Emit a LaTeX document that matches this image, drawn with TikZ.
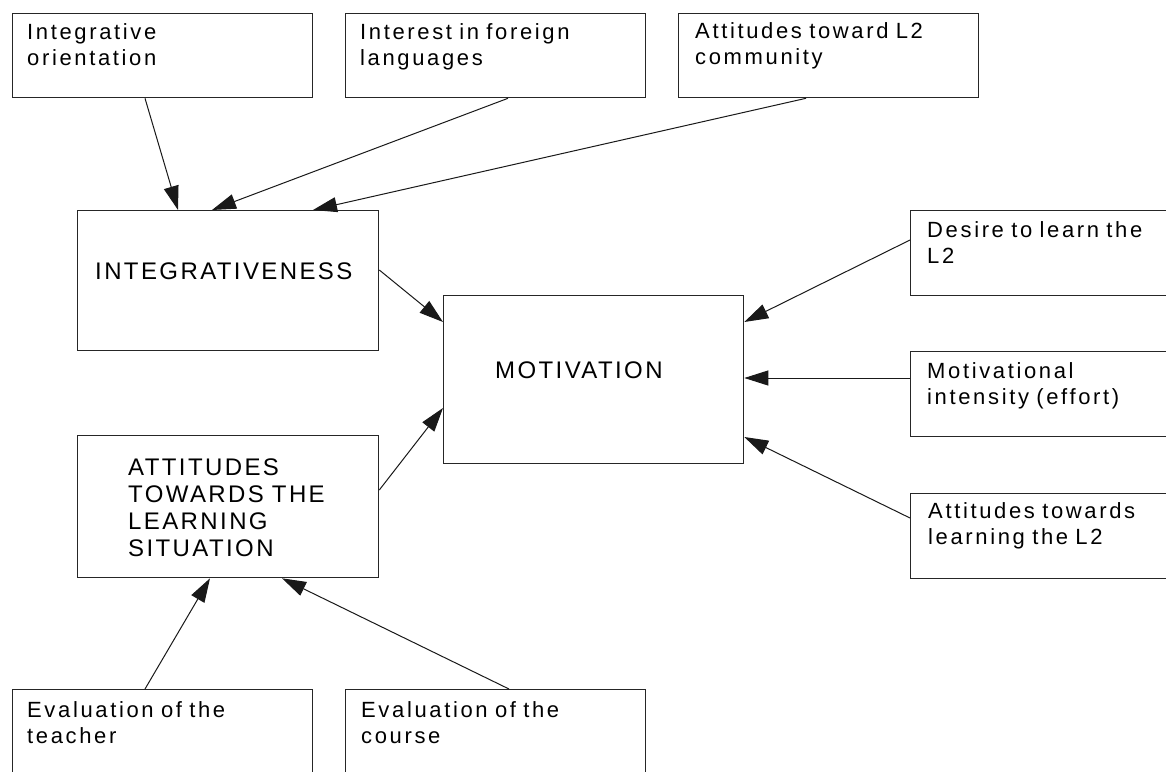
\documentclass[tikz,border=0pt]{standalone}
\usepackage{fontspec}
\setmainfont{Liberation Sans}
\newfontfamily\mixfont[LetterSpace=12,WordSpace=1.5]{Liberation Sans}
\newfontfamily\capfont[LetterSpace=10,WordSpace=1.3]{Liberation Sans}
\newcommand\mixtext{\mixfont\fontsize{22}{26.5}\selectfont}
\newcommand\captext{\capfont\fontsize{24}{27.3}\selectfont}
\usetikzlibrary{arrows.meta}
\begin{document}
\begin{tikzpicture}[x=1pt,y=-1pt,
  box/.style={draw=black!85, line width=1.3pt, rectangle, inner sep=0pt, anchor=north west},
  lab/.style={anchor=base west, inner sep=0pt, text width=280pt, align=left, font=\mixtext},
  caplab/.style={anchor=base west, inner sep=0pt, text width=280pt, align=left, font=\captext},
  arr/.style={line width=1pt, draw=black!90, -{Triangle[length=24pt,width=15pt]}}]
\useasboundingbox (0,0) rectangle (1166,771);
\clip (0,0) rectangle (1166,771);
\fill[white] (0,0) rectangle (1166,771);
% boxes
\node[box, minimum width=300pt, minimum height=84pt] (b1) at (12,13) {};
\node[box, minimum width=300pt, minimum height=84pt] (b2) at (345,13) {};
\node[box, minimum width=300pt, minimum height=84pt] (b3) at (678,13) {};
\node[box, minimum width=301pt, minimum height=140pt] (int) at (77,210) {};
\node[box, minimum width=300pt, minimum height=168pt] (mot) at (443,295) {};
\node[box, minimum width=301pt, minimum height=142pt] (att) at (77,435) {};
\node[box, minimum width=300pt, minimum height=85pt] (d1) at (910,210) {};
\node[box, minimum width=300pt, minimum height=85pt] (d2) at (910,351) {};
\node[box, minimum width=300pt, minimum height=85pt] (d3) at (910,493) {};
\node[box, minimum width=300pt, minimum height=100pt] (e1) at (12,689) {};
\node[box, minimum width=300pt, minimum height=100pt] (e2) at (345,689) {};
% texts
\node[lab] (t1) at (27,39) {Integrative\\orientation};
\node[lab] (t2) at (360,39) {Interest in foreign\\languages};
\node[lab] (t3) at (695,38) {Attitudes toward L2\\community};
\node[caplab] (tint) at (95,279) {INTEGRATIVENESS};
\node[caplab] (tmot) at (495,378) {MOTIVATION};
\node[caplab] (tatt) at (128,475) {ATTITUDES\\TOWARDS THE\\LEARNING\\SITUATION};
\node[lab] (td1) at (927,237) {Desire to learn the\\L2};
\node[lab] (td2) at (927,378) {Motivational\\intensity (effort)};
\node[lab] (td3) at (928,518) {Attitudes towards\\learning the L2};
\node[lab] (te1) at (27,717) {Evaluation of the\\teacher};
\node[lab] (te2) at (361,717) {Evaluation of the\\course};
% connectors
\draw[arr] ([xshift=133pt]b1.south west) -- ([xshift=101pt]int.north west);
\draw[arr] ([xshift=163pt]b2.south west) -- ([xshift=135pt]int.north west);
\draw[arr] ([xshift=128pt]b3.south west) -- ([xshift=236pt]int.north west);
\draw[arr] ([yshift=-60pt]int.north east) -- ([yshift=-27pt]mot.north west);
\draw[arr] ([yshift=-55pt]att.north east) -- ([yshift=-113pt]mot.north west);
\draw[arr] ([yshift=-30pt]d1.north west) -- ([yshift=-27pt]mot.north east);
\draw[arr] ([yshift=-27pt]d2.north west) -- ([yshift=-83pt]mot.north east);
\draw[arr] ([yshift=-25pt]d3.north west) -- ([yshift=-142pt]mot.north east);
\draw[arr] ([xshift=133pt]e1.north west) -- ([xshift=133pt]att.south west);
\draw[arr] ([xshift=164pt]e2.north west) -- ([xshift=205pt]att.south west);
\end{tikzpicture}
\end{document}
